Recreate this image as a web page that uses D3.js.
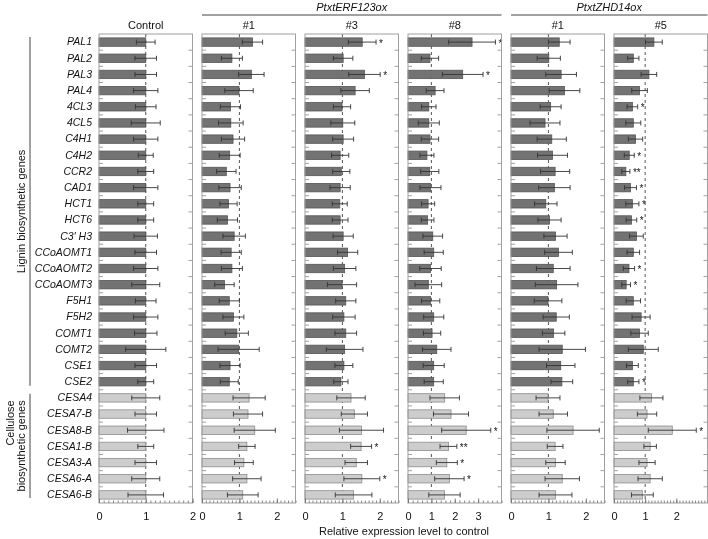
<!DOCTYPE html>
<html><head><meta charset="utf-8">
<script src="https://cdn.jsdelivr.net/npm/d3@7"></script>
<style>
body{margin:0;background:#fff;}
svg{display:block;font-family:"Liberation Sans",Arial,sans-serif;will-change:transform;}
text.sig{opacity:0.99;}
</style>
</head><body>
<svg id="chart" width="708" height="539"></svg>
<script>
// ---------------- DATA ----------------
const genes = ["PAL1","PAL2","PAL3","PAL4","4CL3","4CL5","C4H1","C4H2","CCR2","CAD1","HCT1","HCT6","C3\u2032 H3","CCoAOMT1","CCoAOMT2","CCoAOMT3","F5H1","F5H2","COMT1","COMT2","CSE1","CSE2","CESA4","CESA7-B","CESA8-B","CESA1-B","CESA3-A","CESA6-A","CESA6-B"];
const geneGroup = ["L","L","L","L","L","L","L","L","L","L","L","L","L","L","L","L","L","L","L","L","L","L","C","C","C","C","C","C","C"];

const panelNames = ["Control","#1","#3","#8","#1","#5"];
const panelMax = [2, 2.5, 2.5, 4, 2.5, 3];
const panelTicks = [[0,1,2],[0,1,2],[0,1,2],[0,1,2,3],[0,1,2],[0,1,2]];
const panelMinorStep = [0.1, 0.1, 0.1, 0.2, 0.1, 0.1];
const lineNames = ["PtxtERF123ox","PtxtZHD14ox"];
const lineFirstPanel = [1, 4];
const lineLastPanel = [3, 5];

const ctrlVal = [1,1,1,1,1,1,1,1,1,1,1,1,1,1,1,1,1,1,1,1,1,1,1,1,1,1,1,1,1];
const ctrlSD  = [0.2,0.23,0.23,0.26,0.22,0.31,0.26,0.16,0.17,0.26,0.17,0.17,0.25,0.23,0.26,0.3,0.22,0.26,0.24,0.43,0.23,0.17,0.3,0.23,0.39,0.17,0.23,0.3,0.38];
const ctrlSig = ["","","","","","","","","","","","","","","","","","","","","","","","","","","","",""];

const erf1Val = [1.35,0.8,1.32,0.99,0.76,0.77,0.83,0.74,0.65,0.75,0.71,0.68,0.86,0.78,0.8,0.6,0.73,0.84,0.93,0.98,0.75,0.73,1.26,1.23,1.41,1.2,1.12,1.2,1.09];
const erf1SD  = [0.27,0.28,0.34,0.38,0.27,0.33,0.31,0.28,0.26,0.3,0.23,0.27,0.3,0.27,0.28,0.26,0.27,0.28,0.31,0.55,0.27,0.24,0.43,0.39,0.55,0.22,0.25,0.38,0.41];
const erf1Sig = ["","","","","","","","","","","","","","","","","","","","","","","","","","","","",""];

const erf3Val = [1.53,1.02,1.59,1.34,0.99,1.01,1.02,0.94,0.97,0.94,0.93,0.94,1.02,1.14,1.06,0.99,1.09,1.04,1.09,1.06,1.04,0.96,1.23,1.32,1.51,1.5,1.37,1.52,1.3];
const erf3SD  = [0.37,0.26,0.42,0.38,0.23,0.32,0.28,0.23,0.23,0.27,0.2,0.21,0.27,0.27,0.3,0.39,0.27,0.3,0.29,0.49,0.24,0.19,0.38,0.35,0.59,0.28,0.3,0.48,0.49];
const erf3Sig = ["*","","*","","","","","","","","","","","","","","","","","","","","","","","*","","*",""];

const erf8Val = [2.74,0.94,2.34,1.16,0.89,0.89,0.94,0.81,0.93,0.96,0.86,0.84,1.06,1.1,0.96,0.87,0.97,1.1,1.03,1.23,1.1,1.1,1.57,1.84,2.49,1.73,1.66,1.77,1.56];
const erf8SD  = [1.0,0.37,0.87,0.38,0.31,0.45,0.37,0.3,0.39,0.45,0.28,0.27,0.42,0.41,0.46,0.57,0.39,0.43,0.37,0.61,0.45,0.41,0.63,0.75,1.05,0.36,0.45,0.63,0.67];
const erf8Sig = ["*","","*","","","","","","","","","","","","","","","","","","","","","","*","**","*","*",""];

const zhd1Val = [1.29,1.01,1.34,1.43,1.06,0.91,1.09,1.11,1.18,1.16,0.93,1.03,1.19,1.27,1.13,1.22,0.99,1.21,1.14,1.37,1.33,1.36,0.99,1.13,1.66,1.18,1.19,1.37,1.19];
const zhd1SD  = [0.29,0.31,0.41,0.41,0.28,0.4,0.39,0.4,0.39,0.42,0.3,0.31,0.31,0.37,0.45,0.57,0.37,0.35,0.3,0.62,0.38,0.29,0.32,0.38,0.7,0.21,0.26,0.46,0.44];
const zhd1Sig = ["","","","","","","","","","","","","","","","","","","","","","","","","","","","",""];

const zhd5Val = [1.28,0.62,1.12,0.82,0.59,0.62,0.69,0.49,0.38,0.53,0.59,0.56,0.72,0.62,0.48,0.39,0.62,0.87,0.82,0.94,0.59,0.62,1.2,1.06,1.87,1.16,1.06,1.16,0.91];
const zhd5SD  = [0.27,0.18,0.25,0.25,0.17,0.24,0.23,0.16,0.13,0.19,0.21,0.17,0.22,0.2,0.18,0.14,0.23,0.29,0.28,0.48,0.19,0.18,0.37,0.31,0.77,0.2,0.26,0.39,0.35];
const zhd5Sig = ["","","","","*","","","*","**","*","*","*","","","*","*","","","","","","*","","","*","","","",""];

const groupLabels = [["Lignin biosynthetic genes"],["Cellulose","biosynthetic genes"]];
const xTitle = "Relative expression level to control";

// -------------- LAYOUT --------------
const panels = [
  {v: ctrlVal, sd: ctrlSD, sig: ctrlSig},
  {v: erf1Val, sd: erf1SD, sig: erf1Sig},
  {v: erf3Val, sd: erf3SD, sig: erf3Sig},
  {v: erf8Val, sd: erf8SD, sig: erf8Sig},
  {v: zhd1Val, sd: zhd1SD, sig: zhd1Sig},
  {v: zhd5Val, sd: zhd5SD, sig: zhd5Sig}
];
const svg = d3.select("#chart");
const TOP = 34, BOTTOM = 503;
const PX0 = 99, PW = 93.5, PSTEP = 103;
const y = d3.scaleBand().domain(d3.range(genes.length)).range([TOP, BOTTOM]).paddingInner(0.48).paddingOuter(0.24);
const gap = (y.step() - y.bandwidth()) / 2;
const FRAME = "#a0a0a0";
const fillC = g => g === "L" ? "#737373" : "#cdcdcd";
const strokeC = g => g === "L" ? "#555" : "#8c8c8c";

panels.forEach((p, i) => {
  const g = svg.append("g").attr("transform", `translate(${PX0 + i * PSTEP},0)`);
  const x = d3.scaleLinear().domain([0, panelMax[i]]).range([0, PW]);

  // dashed reference at 1 (behind bars)
  g.append("line").attr("x1", x(1)).attr("x2", x(1)).attr("y1", TOP).attr("y2", BOTTOM)
    .attr("stroke", "#555").attr("stroke-width", 1).attr("stroke-dasharray", "3,3");

  // bars
  g.selectAll("rect.bar").data(p.v).join("rect").attr("class", "bar")
    .attr("x", x(0)).attr("y", (d, j) => y(j)).attr("width", d => x(d) - x(0))
    .attr("height", y.bandwidth())
    .attr("fill", (d, j) => fillC(geneGroup[j]))
    .attr("stroke", (d, j) => strokeC(geneGroup[j])).attr("stroke-width", 0.8);

  // error bars
  const eb = g.selectAll("g.eb").data(p.v).join("g").attr("class", "eb");
  const cy = j => y(j) + y.bandwidth() / 2;
  eb.append("line").attr("x1", (d, j) => x(d - p.sd[j])).attr("x2", (d, j) => x(d + p.sd[j]))
    .attr("y1", (d, j) => cy(j)).attr("y2", (d, j) => cy(j)).attr("stroke", "#333").attr("stroke-width", 0.9);
  eb.append("line").attr("x1", (d, j) => x(d - p.sd[j])).attr("x2", (d, j) => x(d - p.sd[j]))
    .attr("y1", (d, j) => cy(j) - 2.5).attr("y2", (d, j) => cy(j) + 2.5).attr("stroke", "#333").attr("stroke-width", 0.9);
  eb.append("line").attr("x1", (d, j) => x(d + p.sd[j])).attr("x2", (d, j) => x(d + p.sd[j]))
    .attr("y1", (d, j) => cy(j) - 2.5).attr("y2", (d, j) => cy(j) + 2.5).attr("stroke", "#333").attr("stroke-width", 0.9);

  // significance
  g.selectAll("text.sig").data(p.sig).join("text").attr("class", "sig")
    .attr("x", (d, j) => x(p.v[j] + p.sd[j]) + 3)
    .attr("y", (d, j) => cy(j) + 4.5)
    .attr("font-size", 10).attr("fill", "#111")
    .text(d => d);

  // frame
  g.append("rect").attr("x", 0).attr("y", TOP).attr("width", PW).attr("height", BOTTOM - TOP)
    .attr("fill", "none").attr("stroke", FRAME).attr("stroke-width", 1);

  // row separator ticks on left and right
  const bounds = d3.range(1, genes.length).map(k => y(k) - gap);
  g.selectAll("line.lt").data(bounds).join("line").attr("class", "lt")
    .attr("x1", 0).attr("x2", 4).attr("y1", d => d).attr("y2", d => d).attr("stroke", FRAME);
  g.selectAll("line.rt").data(bounds).join("line").attr("class", "rt")
    .attr("x1", PW - 4).attr("x2", PW).attr("y1", d => d).attr("y2", d => d).attr("stroke", FRAME);

  // bottom axis: minor ticks
  const minor = d3.range(0, panelMax[i] + 1e-9, panelMinorStep[i]);
  g.append("g").attr("transform", `translate(0,${BOTTOM})`)
    .call(d3.axisBottom(x).tickValues(minor).tickSize(-2.5).tickFormat(""))
    .call(a => a.select(".domain").remove())
    .call(a => a.selectAll("line").attr("stroke", "#888"));
  // major ticks with labels
  g.append("g").attr("transform", `translate(0,${BOTTOM})`)
    .call(d3.axisBottom(x).tickValues(panelTicks[i]).tickSize(-4.5).tickPadding(9.5).tickFormat(d3.format("d")))
    .call(a => a.select(".domain").remove())
    .call(a => a.selectAll("line").attr("stroke", "#777"))
    .call(a => a.selectAll("text").attr("font-size", 11).attr("fill", "#111").attr("font-family", "Liberation Sans, Arial, sans-serif"));

  // panel header
  svg.append("text").attr("x", PX0 + i * PSTEP + PW / 2).attr("y", 29)
    .attr("text-anchor", "middle").attr("font-size", 11).attr("fill", "#111").text(panelNames[i]);
});

// gene labels
svg.append("g").attr("transform", `translate(${PX0},0)`)
  .call(d3.axisLeft(y).tickSize(0).tickPadding(7).tickFormat(j => genes[j]))
  .call(a => a.select(".domain").remove())
  .call(a => a.selectAll("text").attr("font-size", 10.5).attr("font-style", "italic").attr("fill", "#111")
        .attr("font-family", "Liberation Sans, Arial, sans-serif"));

// line (genotype) headers
lineNames.forEach((n, k) => {
  const x1 = PX0 + lineFirstPanel[k] * PSTEP, x2 = PX0 + lineLastPanel[k] * PSTEP + PW;
  svg.append("line").attr("x1", x1).attr("x2", x2).attr("y1", 15).attr("y2", 15).attr("stroke", "#444").attr("stroke-width", 1);
  svg.append("text").attr("x", (x1 + x2) / 2).attr("y", 11).attr("text-anchor", "middle")
    .attr("font-size", 11).attr("font-style", "italic").attr("fill", "#111").text(n);
});

// group brackets and labels
const nL = geneGroup.filter(d => d === "L").length;
const ligTop = TOP + 3, ligBot = y(nL) - gap - 4;
const celTop = y(nL) - gap + 4, celBot = BOTTOM - 5;
svg.append("line").attr("x1", 30).attr("x2", 30).attr("y1", ligTop).attr("y2", ligBot).attr("stroke", "#444");
svg.append("line").attr("x1", 30).attr("x2", 30).attr("y1", celTop).attr("y2", celBot).attr("stroke", "#444");
svg.append("text").attr("transform", `translate(25,${(ligTop + ligBot) / 2}) rotate(-90)`)
  .attr("text-anchor", "middle").attr("font-size", 11).attr("fill", "#111").text(groupLabels[0][0]);
const cMid = (celTop + celBot) / 2;
const bioText = svg.append("text").attr("transform", `translate(25,${cMid}) rotate(-90)`)
  .attr("text-anchor", "middle").attr("font-size", 11).attr("fill", "#111").text(groupLabels[1][1]);
const bioEnd = cMid - bioText.node().getComputedTextLength() / 2;
svg.append("text").attr("transform", `translate(14,${bioEnd}) rotate(-90)`)
  .attr("text-anchor", "end").attr("font-size", 11).attr("fill", "#111").text(groupLabels[1][0]);

// x title
svg.append("text").attr("x", 404).attr("y", 535).attr("text-anchor", "middle")
  .attr("font-size", 11).attr("fill", "#111").text(xTitle);
</script>
</body></html>
